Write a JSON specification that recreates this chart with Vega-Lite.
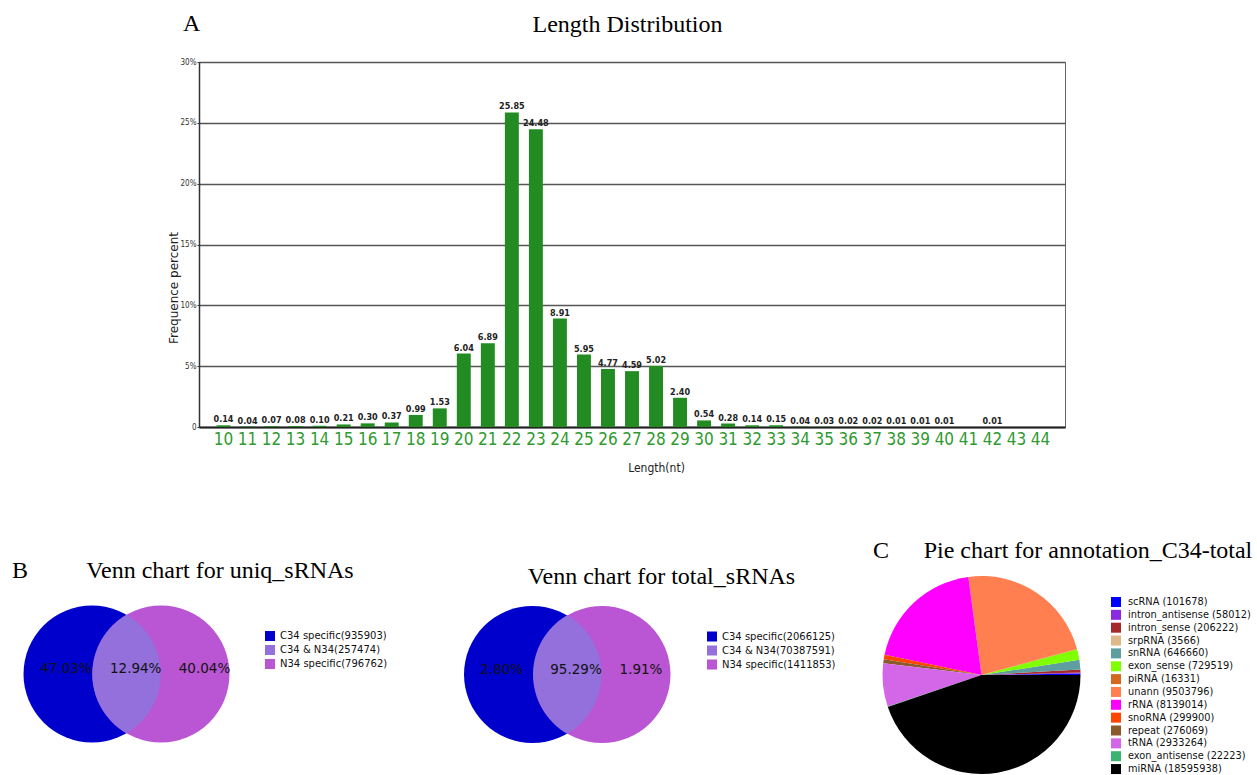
{
  "$schema": "https://vega.github.io/schema/vega-lite/v6.json",
  "background": "white",
  "padding": {"left": 12, "top": 12, "right": 0, "bottom": 0},
  "bounds": "flush",
  "spacing": 149,
  "resolve": {"scale": {"color": "independent", "x": "independent", "y": "independent"}, "legend": {"color": "independent"}},
  "config": {"view": {"stroke": null}},
  "vconcat": [
    {
      "width": 866,
      "height": 365,
      "view": {"stroke": "#666", "strokeWidth": 1},
      "title": {"text": "Length Distribution", "font": "Liberation Serif", "fontSize": 24, "fontWeight": "normal", "color": "#000", "frame": "group", "anchor": "middle", "dx": -4.5, "baseline": "alphabetic", "offset": 2},
      "data": {"values": [
        {"len": 10, "pct": 0.14}, {"len": 11, "pct": 0.04}, {"len": 12, "pct": 0.07}, {"len": 13, "pct": 0.08},
        {"len": 14, "pct": 0.10}, {"len": 15, "pct": 0.21}, {"len": 16, "pct": 0.30}, {"len": 17, "pct": 0.37},
        {"len": 18, "pct": 0.99}, {"len": 19, "pct": 1.53}, {"len": 20, "pct": 6.04}, {"len": 21, "pct": 6.89},
        {"len": 22, "pct": 25.85}, {"len": 23, "pct": 24.48}, {"len": 24, "pct": 8.91}, {"len": 25, "pct": 5.95},
        {"len": 26, "pct": 4.77}, {"len": 27, "pct": 4.59}, {"len": 28, "pct": 5.02}, {"len": 29, "pct": 2.40},
        {"len": 30, "pct": 0.54}, {"len": 31, "pct": 0.28}, {"len": 32, "pct": 0.14}, {"len": 33, "pct": 0.15},
        {"len": 34, "pct": 0.04}, {"len": 35, "pct": 0.03}, {"len": 36, "pct": 0.02}, {"len": 37, "pct": 0.02},
        {"len": 38, "pct": 0.01}, {"len": 39, "pct": 0.01}, {"len": 40, "pct": 0.01}, {"len": 41, "pct": 0.004},
        {"len": 42, "pct": 0.01}, {"len": 43, "pct": 0.003}, {"len": 44, "pct": 0.002}
      ]},
      "encoding": {
        "x": {"field": "len", "type": "ordinal", "scale": {"paddingInner": 0.42, "paddingOuter": 0.73},
          "axis": {"title": "Length(nt)", "labelAngle": 0, "labelColor": "#2f9a2f", "labelFont": "Liberation Sans Narrow, DejaVu Sans Condensed, sans-serif", "labelFontSize": 17, "labelPadding": 4, "ticks": false, "domainColor": "#222", "domainWidth": 2, "grid": false,
            "titleFont": "Liberation Sans Narrow, DejaVu Sans Condensed, sans-serif", "titleFontSize": 12, "titleFontWeight": "normal", "titleColor": "#222", "titleX": 457, "titleY": 44, "titleBaseline": "alphabetic", "titleAlign": "center"}},
        "y": {"field": "pct", "type": "quantitative", "scale": {"domain": [0, 30], "nice": false},
          "axis": {"title": "Frequence percent", "values": [0, 5, 10, 15, 20, 25, 30], "labelExpr": "datum.value == 0 ? '0' : datum.value + '%'", "labelFont": "Liberation Sans Narrow, DejaVu Sans Condensed, sans-serif", "labelFontSize": 8, "labelColor": "#333", "tickSize": 2, "tickColor": "#333", "labelPadding": 1,
            "grid": true, "gridColor": "#555", "gridWidth": 1.3, "gridOpacity": 1, "domainColor": "#333", "domainWidth": 1.5,
            "titleFont": "DejaVu Sans", "titleFontSize": 12, "titleFontWeight": "normal", "titleColor": "#222", "titleAngle": -90, "titleX": -26, "titleY": 225.5, "titleAlign": "center", "titleBaseline": "middle"}}
      },
      "layer": [
        {"mark": {"type": "bar", "color": "#228B22"}},
        {"transform": [{"filter": "datum.pct >= 0.005"}],
         "mark": {"type": "text", "font": "Liberation Sans Narrow, DejaVu Sans Condensed, sans-serif", "fontSize": 9, "fontWeight": "bold", "color": "#222", "baseline": "alphabetic", "dy": -3},
         "encoding": {"text": {"field": "pct", "type": "quantitative", "format": ".2f"}}}
      ]
    },
    {
      "bounds": "flush",
      "spacing": 10,
      "resolve": {"scale": {"color": "independent", "x": "independent", "y": "independent"}, "legend": {"color": "independent"}},
      "hconcat": [
        {
          "width": 230,
          "height": 198,
          "view": {"stroke": null},
          "encoding": {
            "x": {"field": "px", "type": "quantitative", "scale": {"domain": [199, 429], "nice": false, "zero": false}, "axis": null},
            "y": {"field": "py", "type": "quantitative", "scale": {"domain": [576, 774], "nice": false, "zero": false, "reverse": true}, "axis": null}
          },
          "layer": [
            {"data": {"values": [
              {"region": "C34 specific(935903)", "part": "left", "px": 92, "py": 674},
              {"region": "N34 specific(796762)", "part": "right", "px": 161, "py": 674}
            ]},
             "mark": {"type": "point", "shape": "circle", "filled": true, "opacity": 1, "size": 18769},
             "encoding": {"color": {"field": "region", "type": "nominal",
               "scale": {"domain": ["C34 specific(935903)", "C34 & N34(257474)", "N34 specific(796762)"], "range": ["#0000CD", "#9370DB", "#BA55D3"]},
               "legend": {"title": null, "orient": "none", "legendX": 66, "legendY": 55, "symbolType": "square", "symbolSize": 100, "symbolStrokeWidth": 0, "labelFont": "DejaVu Sans", "labelFontSize": 10, "labelColor": "#111", "rowPadding": 4, "labelOffset": 5, "padding": 0}}}},
            {"data": {"values": [
              {"region": "C34 & N34(257474)", "part": "both", "px": 126.5, "py": 674}
            ]},
             "mark": {"type": "point", "shape": "M0,-0.866A1,1,0,0,1,0,0.866A1,1,0,0,1,0,-0.866Z", "filled": true, "opacity": 1, "size": 18769},
             "encoding": {"color": {"field": "region", "type": "nominal",
               "scale": {"domain": ["C34 specific(935903)", "C34 & N34(257474)", "N34 specific(796762)"], "range": ["#0000CD", "#9370DB", "#BA55D3"]}}}},
            {"data": {"values": [
              {"pct": "47.03%", "px": 66, "py": 669},
              {"pct": "12.94%", "px": 135.7, "py": 669},
              {"pct": "40.04%", "px": 204.5, "py": 669}
            ]},
             "mark": {"type": "text", "font": "DejaVu Sans", "fontSize": 13.5, "baseline": "middle", "align": "center", "color": "#111"},
             "encoding": {"text": {"field": "pct"}}},
            {"data": {"values": [
              {"t": "A", "px": 183, "py": 31},
              {"t": "B", "px": 12, "py": 578}
            ]},
             "mark": {"type": "text", "font": "Liberation Serif", "fontSize": 24, "baseline": "alphabetic", "align": "left", "color": "#000"},
             "encoding": {"text": {"field": "t"}}},
            {"data": {"values": [
              {"t": "Venn chart for uniq_sRNAs", "px": 220, "py": 578}
            ]},
             "mark": {"type": "text", "font": "Liberation Serif", "fontSize": 24, "baseline": "alphabetic", "align": "center", "color": "#000"},
             "encoding": {"text": {"field": "t"}}}
          ]
        },
        {
          "width": 260,
          "height": 198,
          "view": {"stroke": null},
          "encoding": {
            "x": {"field": "px", "type": "quantitative", "scale": {"domain": [439, 699], "nice": false, "zero": false}, "axis": null},
            "y": {"field": "py", "type": "quantitative", "scale": {"domain": [576, 774], "nice": false, "zero": false, "reverse": true}, "axis": null}
          },
          "layer": [
            {"data": {"values": [
              {"region": "C34 specific(2066125)", "part": "left", "px": 532.5, "py": 674.5},
              {"region": "N34 specific(1411853)", "part": "right", "px": 602, "py": 674.5}
            ]},
             "mark": {"type": "point", "shape": "circle", "filled": true, "opacity": 1, "size": 18769},
             "encoding": {"color": {"field": "region", "type": "nominal",
               "scale": {"domain": ["C34 specific(2066125)", "C34 & N34(70387591)", "N34 specific(1411853)"], "range": ["#0000CD", "#9370DB", "#BA55D3"]},
               "legend": {"title": null, "orient": "none", "legendX": 268, "legendY": 55.5, "symbolType": "square", "symbolSize": 100, "symbolStrokeWidth": 0, "labelFont": "DejaVu Sans", "labelFontSize": 10, "labelColor": "#111", "rowPadding": 4, "labelOffset": 5, "padding": 0}}}},
            {"data": {"values": [
              {"region": "C34 & N34(70387591)", "part": "both", "px": 567.25, "py": 674.5}
            ]},
             "mark": {"type": "point", "shape": "M0,-0.866A1,1,0,0,1,0,0.866A1,1,0,0,1,0,-0.866Z", "filled": true, "opacity": 1, "size": 18769},
             "encoding": {"color": {"field": "region", "type": "nominal",
               "scale": {"domain": ["C34 specific(2066125)", "C34 & N34(70387591)", "N34 specific(1411853)"], "range": ["#0000CD", "#9370DB", "#BA55D3"]}}}},
            {"data": {"values": [
              {"pct": "2.80%", "px": 501.7, "py": 670},
              {"pct": "95.29%", "px": 576, "py": 670},
              {"pct": "1.91%", "px": 641, "py": 670}
            ]},
             "mark": {"type": "text", "font": "DejaVu Sans", "fontSize": 13.5, "baseline": "middle", "align": "center", "color": "#111"},
             "encoding": {"text": {"field": "pct"}}},
            {"data": {"values": [
              {"t": "Venn chart for total_sRNAs", "px": 661.5, "py": 584}
            ]},
             "mark": {"type": "text", "font": "Liberation Serif", "fontSize": 24, "baseline": "alphabetic", "align": "center", "color": "#000"},
             "encoding": {"text": {"field": "t"}}}
          ]
        },
        {
          "width": 545,
          "height": 198,
          "view": {"stroke": null},
          "layer": [
            {"data": {"values": [
              {"category": "scRNA (101678)", "count": 101678, "idx": 0},
              {"category": "intron_antisense (58012)", "count": 58012, "idx": 1},
              {"category": "intron_sense (206222)", "count": 206222, "idx": 2},
              {"category": "srpRNA (3566)", "count": 3566, "idx": 3},
              {"category": "snRNA (646660)", "count": 646660, "idx": 4},
              {"category": "exon_sense (729519)", "count": 729519, "idx": 5},
              {"category": "piRNA (16331)", "count": 16331, "idx": 6},
              {"category": "unann (9503796)", "count": 9503796, "idx": 7},
              {"category": "rRNA (8139014)", "count": 8139014, "idx": 8},
              {"category": "snoRNA (299900)", "count": 299900, "idx": 9},
              {"category": "repeat (276069)", "count": 276069, "idx": 10},
              {"category": "tRNA (2933264)", "count": 2933264, "idx": 11},
              {"category": "exon_antisense (22223)", "count": 22223, "idx": 12},
              {"category": "miRNA (18595938)", "count": 18595938, "idx": 13}
            ]},
             "mark": {"type": "arc", "radius": 99},
             "encoding": {
               "theta": {"field": "count", "type": "quantitative", "stack": true, "scale": {"range": [1.5708, 7.85398]}},
               "order": {"field": "idx", "type": "quantitative", "sort": "descending"},
               "color": {"field": "category", "type": "nominal",
                 "scale": {"domain": ["scRNA (101678)", "intron_antisense (58012)", "intron_sense (206222)", "srpRNA (3566)", "snRNA (646660)", "exon_sense (729519)", "piRNA (16331)", "unann (9503796)", "rRNA (8139014)", "snoRNA (299900)", "repeat (276069)", "tRNA (2933264)", "exon_antisense (22223)", "miRNA (18595938)"],
                   "range": ["#0000FF", "#8A2BE2", "#A52A2A", "#DEB887", "#5F9EA0", "#7FFF00", "#D2691E", "#FF7F50", "#FF00FF", "#FF4500", "#8B5A2B", "#D466E8", "#3CB371", "#000000"]},
                 "legend": {"title": null, "orient": "none", "legendX": 402, "legendY": 21, "symbolType": "square", "symbolSize": 100, "symbolStrokeWidth": 0, "labelFont": "DejaVu Sans", "labelFontSize": 9.8, "labelColor": "#111", "rowPadding": 2.85, "labelOffset": 7, "padding": 0}}
             }},
            {"data": {"values": [
              {"t": "C", "px": 873, "py": 558}
            ]},
             "mark": {"type": "text", "font": "Liberation Serif", "fontSize": 24, "baseline": "alphabetic", "align": "left", "color": "#000"},
             "encoding": {
               "x": {"field": "px", "type": "quantitative", "scale": {"domain": [709, 1254], "nice": false, "zero": false}, "axis": null},
               "y": {"field": "py", "type": "quantitative", "scale": {"domain": [576, 774], "nice": false, "zero": false, "reverse": true}, "axis": null},
               "text": {"field": "t"}}},
            {"data": {"values": [
              {"t": "Pie chart for annotation_C34-total", "px": 1088, "py": 558}
            ]},
             "mark": {"type": "text", "font": "Liberation Serif", "fontSize": 24, "baseline": "alphabetic", "align": "center", "color": "#000"},
             "encoding": {
               "x": {"field": "px", "type": "quantitative", "scale": {"domain": [709, 1254], "nice": false, "zero": false}, "axis": null},
               "y": {"field": "py", "type": "quantitative", "scale": {"domain": [576, 774], "nice": false, "zero": false, "reverse": true}, "axis": null},
               "text": {"field": "t"}}}
          ]
        }
      ]
    }
  ]
}
